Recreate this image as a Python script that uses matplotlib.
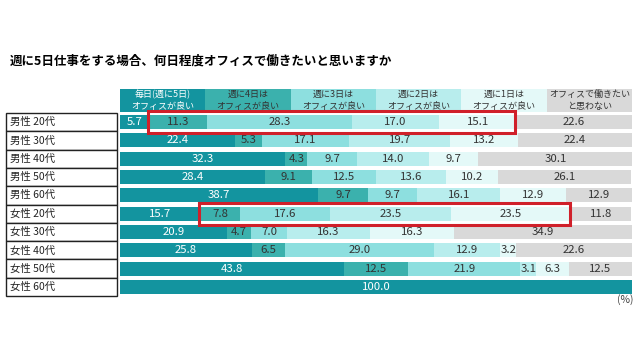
import numpy as np
import matplotlib.pyplot as plt
from matplotlib.patches import Rectangle

plt.rcParams['font.family'] = ['Noto Sans CJK JP', 'DejaVu Sans']

title = "週に5日仕事をする場合、何日程度オフィスで働きたいと思いますか"
groups = ["男性 20代", "男性 30代", "男性 40代", "男性 50代", "男性 60代",
          "女性 20代", "女性 30代", "女性 40代", "女性 50代", "女性 60代"]
series_names = ["毎日(週に5日)\nオフィスが良い", "週に4日は\nオフィスが良い", "週に3日は\nオフィスが良い",
                "週に2日は\nオフィスが良い", "週に1日は\nオフィスが良い", "オフィスで働きたい\nと思わない"]

every_day = [5.7, 22.4, 32.3, 28.4, 38.7, 15.7, 20.9, 25.8, 43.8, 100.0]
four_days = [11.3, 5.3, 4.3, 9.1, 9.7, 7.8, 4.7, 6.5, 12.5, 0]
three_days = [28.3, 17.1, 9.7, 12.5, 9.7, 17.6, 7.0, 29.0, 21.9, 0]
two_days = [17.0, 19.7, 14.0, 13.6, 16.1, 23.5, 16.3, 12.9, 3.1, 0]
one_day = [15.1, 13.2, 9.7, 10.2, 12.9, 23.5, 16.3, 3.2, 6.3, 0]
not_want = [22.6, 22.4, 30.1, 26.1, 12.9, 11.8, 34.9, 22.6, 12.5, 0]

# rows to highlight with a red frame (series 2..5)
highlight_rows = [0, 5]

colors = ["#13949f", "#3bb1ad", "#8ddfdf", "#b8eded", "#e4f9f8", "#d9d9d9"]
text_colors = ["white", "#333333", "#333333", "#333333", "#333333", "#333333"]

data = np.array([every_day, four_days, three_days, two_days, one_day, not_want])
n = len(groups)
y = np.arange(n)

fig = plt.figure(figsize=(6.4, 3.6), dpi=100)
fig.text(10 / 640, 1 - 61 / 360, title, fontsize=9, fontweight='bold', va='center', ha='left')

# bar area: pixels 120..632 horizontally, 113..296 vertically
ax = fig.add_axes([120 / 640, 1 - 296 / 360, 512 / 640, 183 / 360])
ax.set_xlim(0, 100)
ax.set_ylim(n - 0.5, -0.5)
ax.axis('off')

left = np.zeros(n)
for k in range(6):
    vals = data[k]
    ax.barh(y, vals, left=left, height=0.77, color=colors[k], edgecolor='none')
    for i in range(n):
        if vals[i] > 0:
            ax.text(left[i] + vals[i] / 2, y[i], f"{vals[i]:.1f}", ha='center', va='center',
                    fontsize=8.2, color=text_colors[k])
    left += vals

# header cells
hw = 100 / 6
for k in range(6):
    ax.add_patch(Rectangle((k * hw, -1.8), hw, 1.25, facecolor=colors[k], edgecolor='none', clip_on=False))
    ax.text(k * hw + hw / 2, -1.19, series_names[k], ha='center', va='center', fontsize=6.5,
            color=text_colors[k], linespacing=1.35, clip_on=False)

# row label boxes
for i in range(n):
    ax.add_patch(Rectangle((-22.3, i - 0.5), 21.7, 1.0, facecolor='white', edgecolor='#222222',
                           lw=1.0, clip_on=False))
    ax.text(-21.5, i, groups[i], ha='left', va='center', fontsize=7.5, color='#222222', clip_on=False)

# red highlight frames
cum = np.cumsum(data, axis=0)
for r in highlight_rows:
    x0 = cum[0][r] - 0.2
    x1 = cum[4][r] - 0.3
    ax.add_patch(Rectangle((x0, r - 0.6), x1 - x0, 1.2, facecolor='none', edgecolor='#d0202a',
                           lw=2.2, clip_on=False, zorder=5))

fig.text(634 / 640, 1 - 300 / 360, "(%)", fontsize=7.5, ha='right', va='center', color='#444444')

fig.savefig("out.png", dpi=100)
